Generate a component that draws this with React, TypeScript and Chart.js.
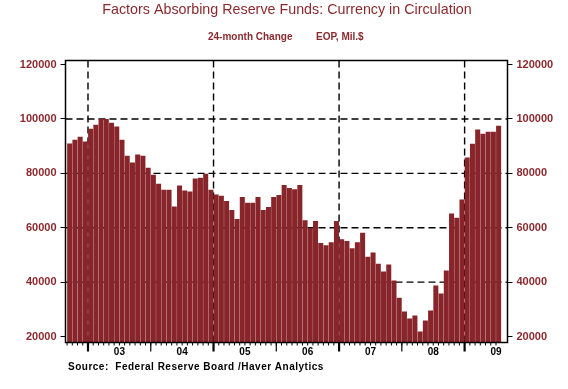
import React, { useEffect, useRef } from "react";
import { Chart, registerables } from "chart.js";

Chart.register(...registerables);

// Months (categories), Sep 2002 .. Jul 2009
const months = [
  "Sep-02", "Oct-02", "Nov-02", "Dec-02",
  "Jan-03", "Feb-03", "Mar-03", "Apr-03", "May-03", "Jun-03", "Jul-03", "Aug-03", "Sep-03", "Oct-03", "Nov-03", "Dec-03",
  "Jan-04", "Feb-04", "Mar-04", "Apr-04", "May-04", "Jun-04", "Jul-04", "Aug-04", "Sep-04", "Oct-04", "Nov-04", "Dec-04",
  "Jan-05", "Feb-05", "Mar-05", "Apr-05", "May-05", "Jun-05", "Jul-05", "Aug-05", "Sep-05", "Oct-05", "Nov-05", "Dec-05",
  "Jan-06", "Feb-06", "Mar-06", "Apr-06", "May-06", "Jun-06", "Jul-06", "Aug-06", "Sep-06", "Oct-06", "Nov-06", "Dec-06",
  "Jan-07", "Feb-07", "Mar-07", "Apr-07", "May-07", "Jun-07", "Jul-07", "Aug-07", "Sep-07", "Oct-07", "Nov-07", "Dec-07",
  "Jan-08", "Feb-08", "Mar-08", "Apr-08", "May-08", "Jun-08", "Jul-08", "Aug-08", "Sep-08", "Oct-08", "Nov-08", "Dec-08",
  "Jan-09", "Feb-09", "Mar-09", "Apr-09", "May-09", "Jun-09", "Jul-09",
];

// 24-month change in currency in circulation, EOP, Mil.$
const currencyChange = [
  91000, 92400, 93500, 91700,
  96400, 97900, 100100, 100000, 98600, 97200, 92400, 86500, 84000, 86900, 86500, 82100,
  79500, 76200, 74000, 74000, 67800, 75500, 73700, 73300, 78100, 78400, 79900, 74000,
  72200, 71800, 69800, 66500, 63200, 71300, 69200, 69200, 71300, 66500, 67600, 71300,
  72000, 75700, 74600, 74200, 75700, 62800, 59900, 62500, 54400, 53600, 54700, 62500,
  55800, 55100, 52500, 54700, 58200, 49300, 50900, 46800, 43900, 46500, 40600, 34300,
  29200, 26600, 27700, 21800, 25900, 29600, 38750, 35800, 44300, 65200, 63700, 70400,
  85800, 90900, 96100, 94600, 95300, 95300, 97500,
];

const yearLabels = ["03", "04", "05", "06", "07", "08", "09"];
const yearStarts = ["Jan-03", "Jan-04", "Jan-05", "Jan-06", "Jan-07", "Jan-08", "Jan-09"];
const dashedYearStarts = ["Jan-03", "Jan-05", "Jan-07", "Jan-09"];
const yTickValues = [20000, 40000, 60000, 80000, 100000, 120000];
const dashedYValues = [40000, 60000, 80000, 100000];

const Y_MIN = 17800;
const Y_MAX = 121500;
const X_MIN = -0.3;
const X_MAX = 84.2;

const TITLE = "Factors Absorbing Reserve Funds: Currency in Circulation";
const SUB_LEFT = "24-month Change";
const SUB_RIGHT = "EOP, Mil.$";
const SOURCE = "Source:  Federal Reserve Board /Haver Analytics";

const FONT = '"Liberation Sans", Arial, Helvetica, sans-serif';
const RED_TEXT = "#8B2A2E";
const BAR = "#88252A";

export default function App() {
  const ref = useRef<HTMLCanvasElement>(null);

  useEffect(() => {
    document.body.style.margin = "0";
    const canvas = ref.current!;
    const monthIdx = (m: string) => months.indexOf(m);

    const decor = {
      id: "decor",
      beforeDatasetsDraw(chart: any) {
        const { ctx, chartArea: a, scales } = chart;
        const x = scales.x;
        const y = scales.y;
        ctx.save();
        ctx.strokeStyle = "#000";
        ctx.lineWidth = 1.4;
        ctx.setLineDash([7, 4]);
        for (const v of dashedYValues) {
          const py = y.getPixelForValue(v);
          ctx.beginPath();
          ctx.moveTo(a.left, py);
          ctx.lineTo(a.right, py);
          ctx.stroke();
        }
        for (const m of dashedYearStarts) {
          const px = x.getPixelForValue(monthIdx(m));
          ctx.beginPath();
          ctx.moveTo(px, a.top);
          ctx.lineTo(px, a.bottom);
          ctx.stroke();
        }
        ctx.restore();
      },
      afterDatasetsDraw(chart: any) {
        const { ctx, chartArea: a, scales } = chart;
        const x = scales.x;
        ctx.save();
        ctx.strokeStyle = "#000";
        ctx.setLineDash([]);
        // month ticks
        ctx.lineWidth = 1;
        for (let i = 0; i < months.length; i++) {
          const px = x.getPixelForValue(i);
          ctx.beginPath();
          ctx.moveTo(px, a.bottom);
          ctx.lineTo(px, a.bottom + 3);
          ctx.stroke();
        }
        // year ticks
        for (const m of yearStarts) {
          const px = x.getPixelForValue(monthIdx(m));
          ctx.lineWidth = dashedYearStarts.includes(m) ? 2.2 : 1.2;
          ctx.beginPath();
          ctx.moveTo(px, a.bottom);
          ctx.lineTo(px, a.bottom + 9);
          ctx.stroke();
        }
        // frame
        ctx.lineWidth = 1.5;
        ctx.strokeRect(a.left, a.top, a.right - a.left, a.bottom - a.top);
        ctx.restore();
      },
      afterDraw(chart: any) {
        const { ctx } = chart;
        ctx.save();
        ctx.textBaseline = "middle";
        ctx.fillStyle = RED_TEXT;
        ctx.font = `14.3px ${FONT}`;
        ctx.textAlign = "center";
        ctx.fillText(TITLE, 287, 10);
        ctx.font = `bold 10px ${FONT}`;
        ctx.textAlign = "left";
        ctx.fillText(SUB_LEFT, 208, 37);
        ctx.fillText(SUB_RIGHT, 316, 37);
        ctx.fillStyle = "#000";
        (ctx as any).letterSpacing = "0.5px";
        ctx.fillText(SOURCE, 68, 367);
        ctx.restore();
      },
    };

    const yAxis = (position: "left" | "right", width: number) => ({
      type: "linear",
      position,
      min: Y_MIN,
      max: Y_MAX,
      afterBuildTicks: (s: any) => {
        s.ticks = yTickValues.map((v) => ({ value: v }));
      },
      afterFit: (s: any) => {
        s.width = width;
      },
      grid: { drawOnChartArea: false, drawTicks: true, tickLength: 5, color: "#000", lineWidth: 1 },
      border: { display: false },
      ticks: {
        color: RED_TEXT,
        font: { family: FONT, size: 11, weight: "bold" },
        padding: 4,
        callback: (v: any) => String(v),
      },
    });

    const chart = new Chart(canvas, {
      type: "bar",
      data: {
        datasets: [
          {
            data: currencyChange.map((v, i) => ({ x: i + 0.5, y: v })),
            backgroundColor: BAR,
            borderWidth: 0,
            barPercentage: 0.96,
            categoryPercentage: 1,
            base: Y_MIN,
            yAxisID: "y",
          },
        ],
      },
      options: {
        animation: false,
        responsive: false,
        devicePixelRatio: 1,
        layout: { padding: { top: 60.5, left: 0, right: 0, bottom: 0 } },
        plugins: { legend: { display: false }, tooltip: { enabled: false }, title: { display: false } },
        scales: {
          x: {
            type: "linear",
            offset: false,
            min: X_MIN,
            max: X_MAX,
            afterBuildTicks: (s: any) => {
              s.ticks = yearStarts.map((m) => ({ value: monthIdx(m) + 6 }));
            },
            afterFit: (s: any) => {
              s.height = 46.5;
            },
            grid: { display: false, drawTicks: false, offset: false },
            border: { display: false },
            ticks: {
              color: "#000",
              font: { family: FONT, size: 10, weight: "bold" },
              padding: 4,
              autoSkip: false,
              maxRotation: 0,
              callback: (_v: any, i: number) => yearLabels[i],
            },
          },
          y: yAxis("left", 65.5) as any,
          y1: yAxis("right", 60.5) as any,
        },
      } as any,
      plugins: [decor],
    });
    return () => chart.destroy();
  }, []);

  return (
    <div style={{ width: 568, height: 389 }}>
      <canvas ref={ref} width={568} height={389} />
    </div>
  );
}
